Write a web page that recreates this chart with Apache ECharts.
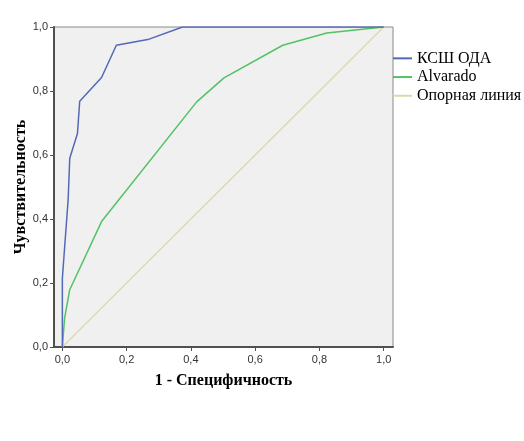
<!DOCTYPE html>
<html>
<head>
<meta charset="utf-8">
<script src="https://cdn.jsdelivr.net/npm/echarts@6/dist/echarts.min.js"></script>
<style>
html, body { margin: 0; padding: 0; background: #fff; }
#main { width: 524px; height: 441px; }
</style>
</head>
<body>
<div id="main"></div>
<script>
// ROC кривые: [1 - специфичность, чувствительность]
var seriesNames = ['КСШ ОДА', 'Alvarado', 'Опорная линия'];
var ksshPoints = [[0, 0], [0, 0.215], [0.018, 0.46], [0.023, 0.59], [0.047, 0.667], [0.054, 0.768],
    [0.122, 0.842], [0.168, 0.943], [0.27, 0.962], [0.374, 1], [1, 1]];
var alvaradoPoints = [[0, 0], [0.007, 0.09], [0.023, 0.179], [0.122, 0.392], [0.418, 0.766],
    [0.503, 0.841], [0.686, 0.943], [0.823, 0.981], [1, 1]];
var refPoints = [[0, 0], [1, 1]];
var tickValues = [0, 0.2, 0.4, 0.6, 0.8, 1.0];

var colors = ['#5468b8', '#52c262', '#ddd8aa'];

var dom = document.getElementById('main');
var myChart = echarts.init(dom);

function fmt(v) {
    return v.toFixed(1).replace('.', ',');
}

var option = {
    animation: false,
    grid: {
        left: 54,
        right: 131,
        top: 27,
        bottom: 94,
        show: true,
        backgroundColor: '#f0f0f0',
        borderColor: '#8a8a8a',
        borderWidth: 1
    },
    legend: {
        orient: 'vertical',
        left: 393,
        top: 49,
        itemWidth: 19,
        itemHeight: 2,
        itemGap: 0,
        icon: 'rect',
        padding: 0,
        data: seriesNames,
        textStyle: {
            fontFamily: 'Liberation Serif',
            fontSize: 16,
            color: '#000',
            lineHeight: 18.7
        }
    },
    xAxis: {
        type: 'value',
        min: -0.026,
        max: 1.029,
        name: '1 - Специфичность',
        nameLocation: 'middle',
        nameGap: 26,
        nameTextStyle: {
            fontFamily: 'Liberation Serif',
            fontWeight: 'bold',
            fontSize: 16,
            color: '#000'
        },
        axisLine: { onZero: false, lineStyle: { color: '#505050', width: 2 } },
        axisTick: {
            show: true,
            length: 4,
            customValues: tickValues,
            lineStyle: { color: '#505050' }
        },
        axisLabel: {
            customValues: tickValues,
            margin: 7,
            fontFamily: 'Liberation Sans',
            fontSize: 11,
            color: '#333',
            formatter: fmt
        },
        splitLine: { show: false }
    },
    yAxis: {
        type: 'value',
        min: 0,
        max: 1,
        interval: 0.2,
        name: 'Чувствительность',
        nameLocation: 'middle',
        nameGap: 25,
        nameMoveOverlap: false,
        nameTextStyle: {
            fontFamily: 'Liberation Serif',
            fontWeight: 'bold',
            fontSize: 16,
            color: '#000'
        },
        axisLine: { show: true, onZero: false, lineStyle: { color: '#505050', width: 2 } },
        axisTick: { show: true, length: 4, lineStyle: { color: '#505050' } },
        axisLabel: {
            margin: 6,
            fontFamily: 'Liberation Sans',
            fontSize: 11,
            color: '#333',
            formatter: fmt
        },
        splitLine: { show: false }
    },
    series: [
        {
            name: seriesNames[2],
            type: 'line',
            data: refPoints,
            symbol: 'none',
            color: colors[2],
            lineStyle: { width: 1.3, color: colors[2] },
            z: 1
        },
        {
            name: seriesNames[1],
            type: 'line',
            data: alvaradoPoints,
            symbol: 'none',
            color: colors[1],
            lineStyle: { width: 1.5, color: colors[1] },
            z: 2
        },
        {
            name: seriesNames[0],
            type: 'line',
            data: ksshPoints,
            symbol: 'none',
            color: colors[0],
            lineStyle: { width: 1.5, color: colors[0] },
            z: 3
        }
    ]
};

myChart.setOption(option);
</script>
</body>
</html>
